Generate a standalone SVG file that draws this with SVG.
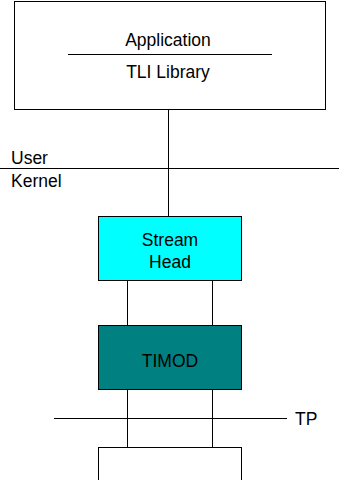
<svg xmlns="http://www.w3.org/2000/svg" width="339" height="480" viewBox="0 0 339 480">
<style>
text{font-family:"Liberation Sans",Arial,sans-serif;font-size:17.5px;fill:#000}
.c{text-anchor:middle}
.b{stroke:#000;stroke-width:1}
line{stroke:#000;stroke-width:1}
</style>
<rect width="339" height="480" fill="#fff"/>
<g id="connectors">
<line x1="168.5" y1="109" x2="168.5" y2="216"/>
<line x1="0" y1="168.5" x2="339" y2="168.5"/>
<line x1="127.5" y1="281" x2="127.5" y2="325"/>
<line x1="212.5" y1="281" x2="212.5" y2="325"/>
<line x1="127.5" y1="390" x2="127.5" y2="447"/>
<line x1="212.5" y1="390" x2="212.5" y2="447"/>
<line x1="54" y1="418.5" x2="287" y2="418.5"/>
</g>
<g id="application">
<rect class="b" x="14.5" y="1.5" width="311" height="108" fill="#fff"/>
<line x1="68" y1="54.5" x2="272" y2="54.5"/>
<text class="c" x="168" y="46">Application</text>
<text class="c" x="168" y="78">TLI Library</text>
</g>
<g id="user-kernel">
<text x="11" y="164">User</text>
<text x="11" y="187">Kernel</text>
</g>
<g id="stream-head">
<rect class="b" x="98.5" y="216.5" width="143" height="64" fill="#00FFFF"/>
<text class="c" x="170" y="246">Stream</text>
<text class="c" x="170" y="268">Head</text>
</g>
<g id="timod">
<rect class="b" x="98.5" y="325.5" width="143" height="64" fill="#008080"/>
<text class="c" x="170" y="367">TIMOD</text>
</g>
<g id="tp">
<text x="295" y="425">TP</text>
</g>
<g id="bottom-box">
<rect class="b" x="98.5" y="447.5" width="143" height="40" fill="#fff"/>
</g>
</svg>
